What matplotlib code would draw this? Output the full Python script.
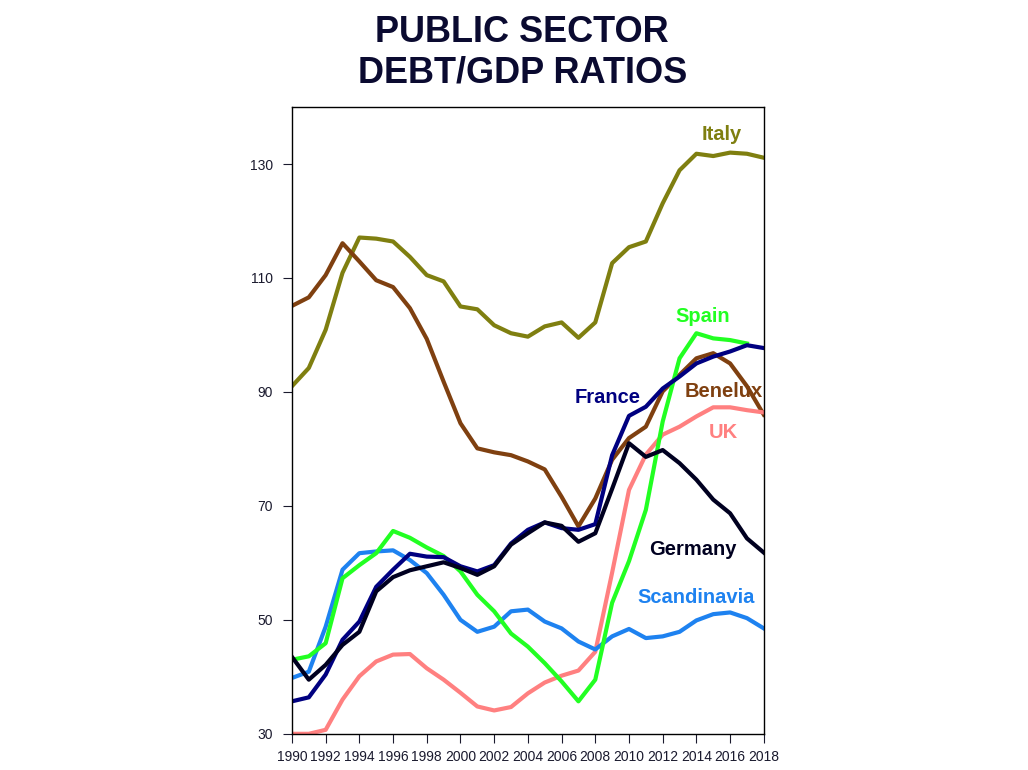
import numpy as np
import matplotlib
matplotlib.use("Agg")
import matplotlib.pyplot as plt

plt.rcParams["font.family"] = ["Liberation Sans", "DejaVu Sans"]

years = list(range(1990, 2019))

# debt/GDP ratios
italy = [91.0, 94.2, 100.9, 110.9, 117.1, 116.9, 116.4, 113.7, 110.5, 109.4,
         105.0, 104.5, 101.7, 100.3, 99.7, 101.5, 102.2, 99.5, 102.2, 112.6,
         115.4, 116.4, 123.1, 128.9, 131.8, 131.4, 132.0, 131.8, 131.1]
benelux = [105.1, 106.6, 110.5, 116.1, 112.9, 109.6, 108.4, 104.7, 99.3, 91.8,
           84.5, 80.1, 79.4, 78.9, 77.8, 76.4, 71.6, 66.4, 71.3, 78.1,
           81.9, 83.9, 90.1, 93.0, 95.9, 96.8, 95.0, 91.0, 86.0]
france = [35.7, 36.4, 40.4, 46.5, 49.7, 55.8, 58.8, 61.6, 61.1, 61.0,
          59.4, 58.5, 59.6, 63.4, 65.8, 67.1, 66.1, 65.8, 66.8, 78.9,
          85.8, 87.4, 90.6, 92.7, 95.0, 96.2, 97.1, 98.2, 97.7]
germany = [43.5, 39.5, 42.1, 45.6, 47.9, 55.0, 57.5, 58.7, 59.4, 60.1,
           59.1, 57.9, 59.4, 63.2, 65.2, 67.1, 66.5, 63.7, 65.2, 73.0,
           81.0, 78.6, 79.8, 77.5, 74.6, 71.1, 68.7, 64.3, 61.8]
spain = [43.0, 43.6, 45.9, 57.3, 59.6, 61.7, 65.6, 64.4, 62.7, 61.2,
         58.5, 54.4, 51.5, 47.6, 45.3, 42.4, 39.2, 35.7, 39.5, 53.0,
         60.3, 69.3, 84.8, 95.9, 100.3, 99.4, 99.1, 98.5]
uk = [30.0, 30.0, 30.7, 36.0, 40.1, 42.7, 43.9, 44.0, 41.5, 39.5,
      37.2, 34.8, 34.1, 34.7, 37.1, 39.0, 40.2, 41.1, 44.4, 58.3,
      72.8, 79.0, 82.5, 83.9, 85.7, 87.3, 87.3, 86.8, 86.4]
scandinavia = [39.8, 40.9, 48.8, 58.8, 61.7, 62.0, 62.2, 60.5, 58.2, 54.4,
               50.0, 47.9, 48.8, 51.5, 51.8, 49.7, 48.5, 46.2, 44.8, 47.1,
               48.4, 46.8, 47.1, 47.9, 49.9, 51.0, 51.3, 50.3, 48.5]

series = [
    ("Italy", italy, "#7f7f10", (2015.5, 135.2)),
    ("Benelux", benelux, "#7f4010", (2015.6, 90.1)),
    ("UK", uk, "#ff8080", (2015.6, 82.9)),
    ("Scandinavia", scandinavia, "#1e82f0", (2014.0, 53.9)),
    ("Spain", spain, "#22ff22", (2014.4, 103.2)),
    ("France", france, "#000080", (2008.75, 88.95)),
    ("Germany", germany, "#000020", (2013.8, 62.4)),
]

fig = plt.figure(figsize=(10.28, 7.70), dpi=100)
ax = fig.add_axes([0.284, 0.047, 0.459, 0.814])

for name, vals, color, pos in series:
    ax.plot(years[:len(vals)], vals, color=color, lw=3.0, solid_joinstyle="round")
    ax.text(pos[0], pos[1], name, color=color, fontsize=14.5,
            fontweight="bold", ha="center", va="center")

ax.set_xlim(1990, 2018)
ax.set_ylim(30, 140)
ax.set_xticks(range(1990, 2019, 2))
ax.set_yticks([30, 50, 70, 90, 110, 130])
ax.tick_params(axis="both", direction="out", length=6.5, width=0.8,
               labelsize=10, colors="#1a1a2e")
ax.tick_params(axis="x", pad=5)
ax.tick_params(axis="y", pad=7)
for s in ax.spines.values():
    s.set_color("black")
    s.set_linewidth(1.0)

fig.text(0.508, 0.932, "PUBLIC SECTOR\nDEBT/GDP RATIOS", ha="center",
         va="center", fontsize=26, fontweight="bold", color="#0a0a30",
         linespacing=1.2)

fig.savefig("out.png", dpi=100)
